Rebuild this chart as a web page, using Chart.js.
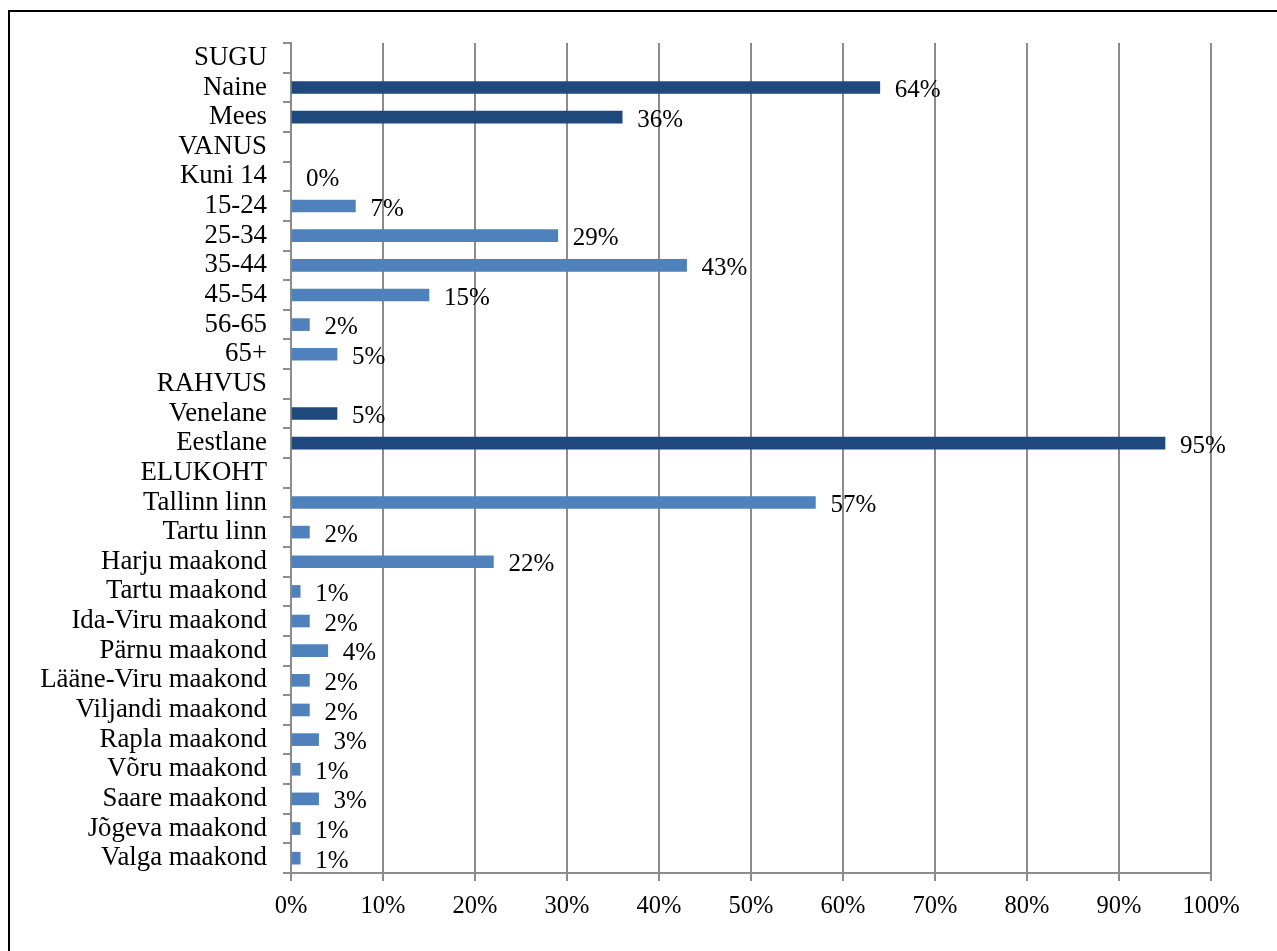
<!DOCTYPE html>
<html>
<head>
<meta charset="utf-8">
<script src="https://cdn.jsdelivr.net/npm/chart.js@4/dist/chart.umd.min.js"></script>
<style>
  html, body { margin: 0; padding: 0; background: #fff; overflow: hidden; }
  #wrap { position: relative; width: 1277px; height: 951px; }
  #frame { position: absolute; left: 8px; top: 10px; width: 1300px; height: 1000px;
           border: 2px solid #000; box-sizing: border-box; pointer-events: none; }
  canvas { position: absolute; left: 0; top: 0; }
</style>
</head>
<body>
<div id="wrap">
  <canvas id="chart" width="1277" height="951"></canvas>
  <div id="frame"></div>
</div>
<script>
// Respondent profile: share of respondents per group (%)
const categories = [
  'SUGU', 'Naine', 'Mees',
  'VANUS', 'Kuni 14', '15-24', '25-34', '35-44', '45-54', '56-65', '65+',
  'RAHVUS', 'Venelane', 'Eestlane',
  'ELUKOHT', 'Tallinn linn', 'Tartu linn', 'Harju maakond', 'Tartu maakond',
  'Ida-Viru maakond', 'Pärnu maakond', 'Lääne-Viru maakond', 'Viljandi maakond',
  'Rapla maakond', 'Võru maakond', 'Saare maakond', 'Jõgeva maakond', 'Valga maakond'
];
// null = section heading row (no bar)
const shares = [
  null, 64, 36,
  null, 0, 7, 29, 43, 15, 2, 5,
  null, 5, 95,
  null, 57, 2, 22, 1,
  2, 4, 2, 2,
  3, 1, 3, 1, 1
];
// Rows drawn in the darker shade
const darkRows = ['Naine', 'Mees', 'Venelane', 'Eestlane'];
const xTicks = [0, 10, 20, 30, 40, 50, 60, 70, 80, 90, 100];

const DARK = '#1F497D';
const LIGHT = '#4F81BD';
const GRID = '#8c8c8c';
const SERIF = '"Liberation Serif", "Times New Roman", serif';

const valueLabels = {
  id: 'valueLabels',
  afterDatasetsDraw(chart) {
    const ctx = chart.ctx;
    const meta = chart.getDatasetMeta(0);
    ctx.save();
    ctx.font = '25px ' + SERIF;
    ctx.fillStyle = '#000';
    ctx.textAlign = 'left';
    ctx.textBaseline = 'middle';
    meta.data.forEach((bar, i) => {
      const v = shares[i];
      if (v === null || v === undefined) return;
      ctx.fillText(v + '%', bar.x + 15, bar.y + 3);
    });
    ctx.restore();
  }
};

new Chart(document.getElementById('chart'), {
  type: 'bar',
  data: {
    labels: categories,
    datasets: [{
      data: shares,
      backgroundColor: categories.map(c => darkRows.includes(c) ? DARK : LIGHT),
      borderWidth: 0,
      barThickness: 12
    }]
  },
  options: {
    indexAxis: 'y',
    responsive: false,
    devicePixelRatio: 1,
    animation: false,
    layout: { padding: { top: 43, right: 66, bottom: 0, left: 0 } },
    plugins: { legend: { display: false }, tooltip: { enabled: false } },
    scales: {
      x: {
        min: 0, max: 100,
        afterBuildTicks(scale) { scale.ticks = xTicks.map(v => ({ value: v })); },
        afterFit(scale) { scale.height = 78; },
        ticks: {
          callback: v => v + '%',
          font: { family: SERIF, size: 24.5 },
          color: '#000',
          padding: 11,
          maxRotation: 0
        },
        grid: { color: GRID, lineWidth: 2, tickLength: 8, drawTicks: true },
        border: { display: true, color: GRID, width: 2 }
      },
      y: {
        afterFit(scale) { scale.width = 291; },
        ticks: {
          font: { family: SERIF, size: 26.8 },
          color: '#000',
          padding: 16,
          autoSkip: false
        },
        grid: { offset: true, drawOnChartArea: false, color: GRID, lineWidth: 2, tickLength: 8 },
        border: { display: true, color: GRID, width: 2 }
      }
    }
  },
  plugins: [valueLabels]
});
</script>
</body>
</html>
